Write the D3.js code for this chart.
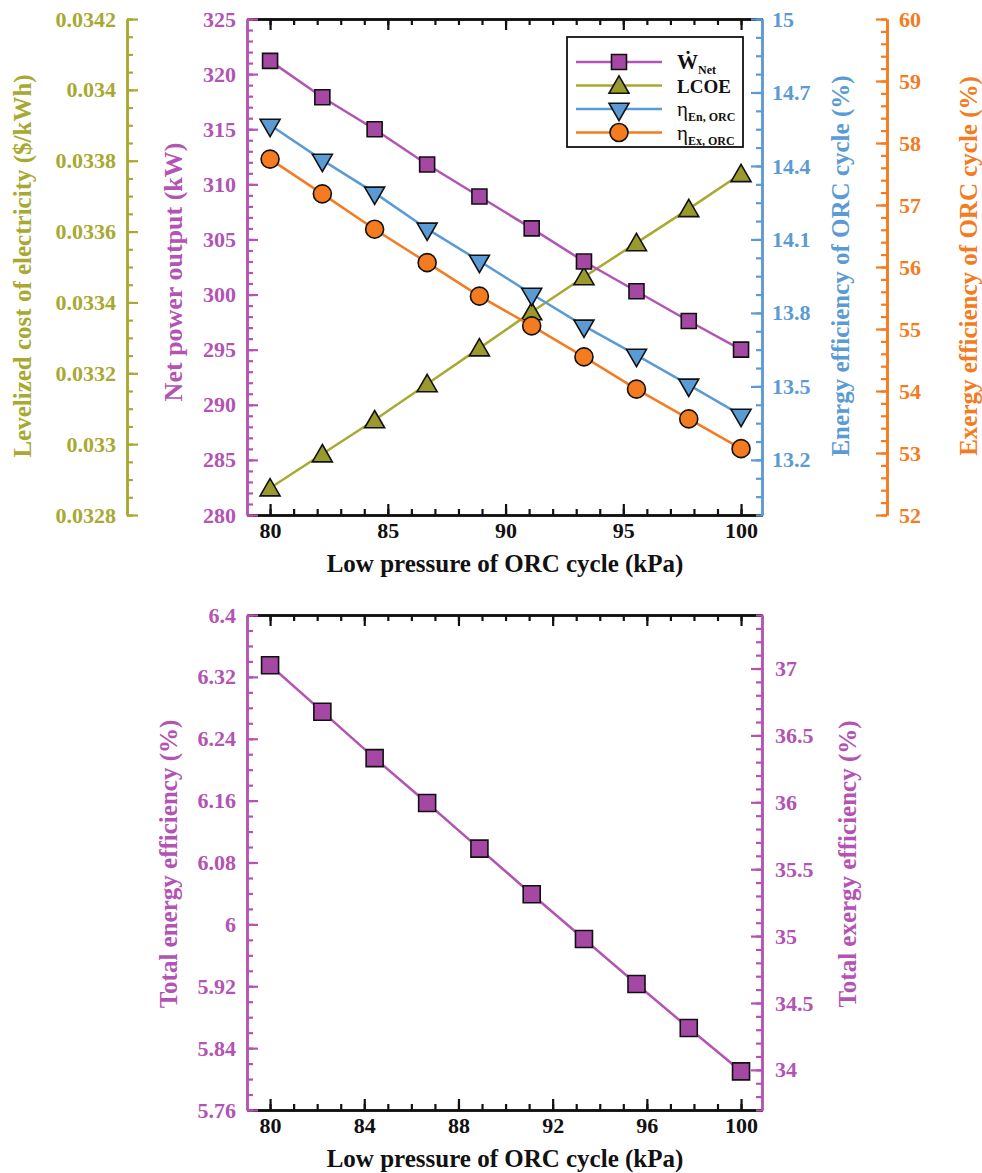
<!DOCTYPE html>
<html lang="en">
<head>
<meta charset="UTF-8">
<title>ORC cycle low pressure</title>
<style>
    body { margin: 0; background: #fff; }
    svg text { font-family: "Liberation Serif", "Times New Roman", serif; font-weight: bold; }
</style>
</head>
<body>
<script src="https://d3js.org/d3.v7.min.js"></script>
<script>
    // data
    const pressure = [80, 82.22, 84.44, 86.67, 88.89, 91.11, 93.33, 95.56, 97.78, 100];
    const netPower = [321.2, 317.9, 315.0, 311.8, 308.9, 306.0, 303.0, 300.3, 297.6, 295.0];
    const lcoe = [0.032876, 0.032972, 0.033068, 0.03317, 0.033271, 0.033373, 0.033472, 0.033568, 0.033664, 0.033763];
    const etaEn = [14.567, 14.424, 14.29, 14.143, 14.012, 13.877, 13.747, 13.628, 13.506, 13.383];
    const etaEx = [57.74, 57.18, 56.61, 56.07, 55.53, 55.05, 54.55, 54.03, 53.55, 53.07];
    const totalEnergyEff = [6.335, 6.275, 6.215, 6.157, 6.098, 6.039, 5.981, 5.923, 5.866, 5.81];

    const purple = "#b353b3", purpleFill = "#a448a4";
    const olive = "#a9a932", oliveFill = "#9a9a2c";
    const blue = "#5b9bd5", blueFill = "#5b9bd5";
    const orange = "#f47b20", orangeFill = "#f47b20";

    const svg = d3.select("body").append("svg")
        .attr("width", 982).attr("height", 1173);

    const rng = (a, b, s) => d3.range(Math.round((b - a) / s) + 1).map(i => +(a + i * s).toFixed(6));

    // all ticks point into the plot / to the label-free side (negative tick size)
    function axis(pos, scale, side, majors, minors, color, fmt, pad) {
        const g = svg.append("g");
        const mk = { left: d3.axisLeft, right: d3.axisRight, top: d3.axisTop, bottom: d3.axisBottom }[side];
        const vertical = side === "left" || side === "right";
        g.attr("transform", vertical ? `translate(${pos},0)` : `translate(0,${pos})`);
        const ma = g.append("g").call(mk(scale).tickValues(majors).tickSize(-11).tickSizeOuter(0)
            .tickPadding(pad || 8).tickFormat(fmt || ""));
        g.append("g").call(mk(scale).tickValues(minors).tickSize(-6).tickSizeOuter(0).tickFormat(""));
        g.selectAll("g").attr("font-family", "'Liberation Serif', 'Times New Roman', serif");
        g.selectAll("path.domain").attr("stroke", color).attr("stroke-width", 2.5);
        g.selectAll(".tick line").attr("stroke", color).attr("stroke-width", 2.2);
        ma.selectAll(".tick text").attr("fill", color).style("font-size", "22px");
        return g;
    }

    function title(x, y, text, color, rot, size) {
        svg.append("text")
            .attr("transform", `translate(${x},${y})` + (rot ? " rotate(-90)" : ""))
            .attr("text-anchor", "middle")
            .attr("dominant-baseline", "central")
            .attr("fill", color)
            .style("font-size", (size || 25) + "px")
            .text(text);
    }

    function markers(sel, shape, size, fill) {
        if (shape === "circle") {
            sel.append("circle").attr("r", size / 2).attr("fill", fill)
                .attr("stroke", "#111").attr("stroke-width", 1.6);
        } else {
            const sym = shape === "square" ? d3.symbolSquare : d3.symbolTriangle;
            const area = shape === "square" ? size * size : size * size * 0.433;
            sel.append("path").attr("d", d3.symbol().type(sym).size(area)())
                .attr("transform", shape === "tridown" ? "rotate(180)" : (shape === "triangle" ? "translate(0,2)" : null))
                .attr("fill", fill).attr("stroke", "#111").attr("stroke-width", 1.6);
        }
    }

    function series(x, y, vals, color, fill, shape, size) {
        const pts = pressure.map((p, i) => [p, vals[i]]);
        svg.append("path").datum(pts)
            .attr("fill", "none").attr("stroke", color).attr("stroke-width", 2.5)
            .attr("d", d3.line().x(d => x(d[0])).y(d => y(d[1])));
        const g = svg.append("g").selectAll("g").data(pts).join("g")
            .attr("transform", d => `translate(${x(d[0])},${y(d[1])})`);
        markers(g, shape, size, fill);
    }

    // ---------- top chart ----------
    const L = 247, R = 762;
    const x1 = d3.scaleLinear().domain([79.02, 100.89]).range([L, R]);
    const yNet = d3.scaleLinear().domain([280, 325]).range([515, 19]);
    const yLcoe = d3.scaleLinear().domain([0.0328, 0.0342]).range([515, 19]);
    const yEn = d3.scaleLinear().domain([12.975, 15]).range([515, 19]);
    const yEx = d3.scaleLinear().domain([52, 60]).range([515, 19]);

    axis(515, x1, "bottom", rng(80, 100, 5), rng(80, 100, 1), "#111", d3.format("d"), 7);
    axis(19, x1, "top", rng(80, 100, 5), rng(80, 100, 1), "#111", null);
    axis(L, yNet, "left", rng(280, 325, 5), rng(280, 325, 1), purple, d3.format("d"), 11);
    axis(R, yEn, "right", rng(13.2, 15, 0.3), rng(12.975, 15, 0.075), blue, d => +d.toFixed(1), 10);
    axis(127, yLcoe, "left", rng(0.0328, 0.0342, 0.0002), rng(0.0328, 0.0342, 0.00005), olive, d => String(+d.toFixed(4)), 11);
    axis(887, yEx, "right", rng(52, 60, 1), rng(52, 60, 0.2), orange, d3.format("d"), 12);

    series(x1, yLcoe, lcoe, olive, oliveFill, "triangle", 20);
    series(x1, yEn, etaEn, blue, blueFill, "tridown", 20);
    series(x1, yEx, etaEx, orange, orangeFill, "circle", 18);
    series(x1, yNet, netPower, purple, purpleFill, "square", 15);

    title(505, 563, "Low pressure of ORC cycle (kPa)", "#111", false, 25);
    title(22, 266, "Levelized cost of electricity ($/kWh)", olive, true, 25);
    title(173, 272, "Net power output (kW)", purple, true, 26);
    title(840, 266, "Energy efficiency of ORC cycle (%)", blue, true, 25);
    title(968, 266, "Exergy efficiency of ORC cycle (%)", orange, true, 25);

    // legend
    const lg = svg.append("g").attr("transform", "translate(567,37)");
    lg.append("rect").attr("width", 176).attr("height", 110)
        .attr("fill", "#fff").attr("stroke", "#111").attr("stroke-width", 1.8);
    const legendItems = [
        { color: purple, fill: purpleFill, shape: "square", size: 15, main: "\u1E86", sub: "Net" },
        { color: olive, fill: oliveFill, shape: "triangle", size: 20, main: "LCOE", sub: "" },
        { color: blue, fill: blueFill, shape: "tridown", size: 20, main: "\u03B7", sub: "En, ORC" },
        { color: orange, fill: orangeFill, shape: "circle", size: 18, main: "\u03B7", sub: "Ex, ORC" }
    ];
    legendItems.forEach((d, i) => {
        const row = lg.append("g").attr("transform", `translate(0,${25 + i * 23.5})`);
        row.append("line").attr("x1", 9).attr("x2", 95)
            .attr("stroke", d.color).attr("stroke-width", 2.5);
        markers(row.append("g").attr("transform", "translate(52,0)"), d.shape, d.size, d.fill);
        const t = row.append("text").attr("x", 110).attr("y", 7).attr("fill", "#111")
            .style("font-size", d.sub ? "21px" : "19px");
        t.append("tspan").text(d.main).style("font-weight", d.main === "\u03B7" ? "normal" : "bold");
        if (d.sub) t.append("tspan").attr("dy", 5).style("font-size", "12px").text(d.sub);
    });

    // ---------- bottom chart ----------
    const x2 = d3.scaleLinear().domain([79.02, 100.89]).range([L, R]);
    const yTotEn = d3.scaleLinear().domain([5.76, 6.4]).range([1110, 615]);
    const yTotEx = d3.scaleLinear().domain([33.7, 37.4]).range([1110, 615]);

    axis(1110, x2, "bottom", rng(80, 100, 4), rng(80, 100, 1), "#111", d3.format("d"), 7);
    axis(615, x2, "top", rng(80, 100, 4), rng(80, 100, 1), "#111", null);
    axis(L, yTotEn, "left", rng(5.76, 6.4, 0.08), rng(5.76, 6.4, 0.02), purple, d => String(+d.toFixed(2)), 11);
    axis(R, yTotEx, "right", rng(34, 37, 0.5), rng(33.7, 37.4, 0.1), purple, d => String(+d.toFixed(1)), 13);

    series(x2, yTotEn, totalEnergyEff, purple, purpleFill, "square", 17);

    title(505, 1158, "Low pressure of ORC cycle (kPa)", "#111", false, 25);
    title(168, 864, "Total energy efficiency (%)", purple, true, 25);
    title(847, 864, "Total exergy efficiency (%)", purple, true, 25);
</script>
</body>
</html>
